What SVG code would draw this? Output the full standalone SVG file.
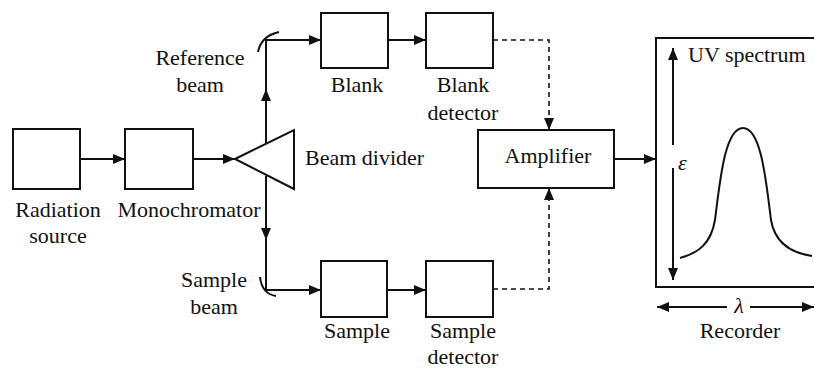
<svg xmlns="http://www.w3.org/2000/svg" width="814" height="368" viewBox="0 0 814 368">
<style>
.box{fill:none;stroke:#111;stroke-width:2}
.ln{fill:none;stroke:#111;stroke-width:2}
.dash{fill:none;stroke:#111;stroke-width:1.6;stroke-dasharray:5,4}
text{font-family:"Times New Roman","Liberation Serif",Times,"DejaVu Serif","Noto Serif",serif;font-size:22px;fill:#111}
.c{text-anchor:middle}
</style>
<defs>
<marker id="ah" viewBox="0 0 12 10" refX="12" refY="5" markerWidth="12" markerHeight="10" markerUnits="userSpaceOnUse" orient="auto">
<path d="M0,0 L12,5 L0,10 Z" fill="#111"/>
</marker>
</defs>
<g id="radiation-source">
<rect class="box" x="13" y="129" width="67" height="60"/>
<text class="c" x="58" y="217">Radiation</text>
<text class="c" x="58" y="243">source</text>
</g>
<g id="monochromator">
<rect class="box" x="125" y="129" width="68" height="60"/>
<text class="c" x="189" y="217">Monochromator</text>
</g>
<g id="beam-divider">
<path class="box" d="M235,159 L294,130 L294,189 Z"/>
<text x="305" y="165">Beam divider</text>
</g>
<g id="reference-mirror">
<path class="ln" d="M258,52 Q261,36 279,32"/>
<text class="c" x="200" y="65">Reference</text>
<text class="c" x="200" y="92">beam</text>
</g>
<g id="sample-mirror">
<path class="ln" d="M260,277 Q262,294 276,296"/>
<text class="c" x="214" y="287">Sample</text>
<text class="c" x="214" y="314">beam</text>
</g>
<g id="blank">
<rect class="box" x="321" y="13" width="67" height="55"/>
<text class="c" x="357" y="92">Blank</text>
</g>
<g id="blank-detector">
<rect class="box" x="426" y="13" width="67" height="55"/>
<text class="c" x="463" y="92">Blank</text>
<text class="c" x="463" y="120">detector</text>
</g>
<g id="sample">
<rect class="box" x="321" y="261" width="66" height="56"/>
<text class="c" x="357" y="338">Sample</text>
</g>
<g id="sample-detector">
<rect class="box" x="426" y="261" width="67" height="56"/>
<text class="c" x="463" y="338">Sample</text>
<text class="c" x="463" y="364">detector</text>
</g>
<g id="amplifier">
<rect class="box" x="478" y="130" width="136" height="58"/>
<text class="c" x="548" y="163">Amplifier</text>
</g>
<g id="recorder">
<path class="box" d="M820,38 L656,38 L656,287 L820,287"/>
<text x="688" y="62">UV spectrum</text>
<line class="ln" x1="673" y1="145" x2="673" y2="48" marker-end="url(#ah)"/>
<line class="ln" x1="673" y1="168" x2="673" y2="280" marker-end="url(#ah)"/>
<text x="678" y="170" font-style="italic">ε</text>
<path class="ln" d="M680,258 C698,253 711,244 715,220 C720,180 725,128 743,128 C761,128 766,180 771,220 C775,244 792,253 812,256"/>
<line class="ln" x1="727" y1="307" x2="657" y2="307" marker-end="url(#ah)"/>
<line class="ln" x1="750" y1="307" x2="814" y2="307" marker-end="url(#ah)"/>
<text class="c" x="739" y="313" font-style="italic" font-size="19">λ</text>
<text class="c" x="740" y="338">Recorder</text>
</g>
<g id="connectors">
<line class="ln" x1="80" y1="159" x2="125" y2="159" marker-end="url(#ah)"/>
<line class="ln" x1="193" y1="159" x2="235" y2="159" marker-end="url(#ah)"/>
<line class="ln" x1="266" y1="143" x2="266" y2="89" marker-end="url(#ah)"/>
<path class="ln" d="M266,92 L266,40 L321,40" marker-end="url(#ah)"/>
<line class="ln" x1="266" y1="176" x2="266" y2="240" marker-end="url(#ah)"/>
<path class="ln" d="M266,236 L266,290 L321,290" marker-end="url(#ah)"/>
<line class="ln" x1="388" y1="40" x2="426" y2="40" marker-end="url(#ah)"/>
<line class="ln" x1="387" y1="290" x2="426" y2="290" marker-end="url(#ah)"/>
<path class="dash" d="M493,40 L549,40 L549,130" marker-end="url(#ah)"/>
<path class="dash" d="M493,289 L549,289 L549,188" marker-end="url(#ah)"/>
<line class="ln" x1="614" y1="159" x2="656" y2="159" marker-end="url(#ah)"/>
</g>
</svg>
